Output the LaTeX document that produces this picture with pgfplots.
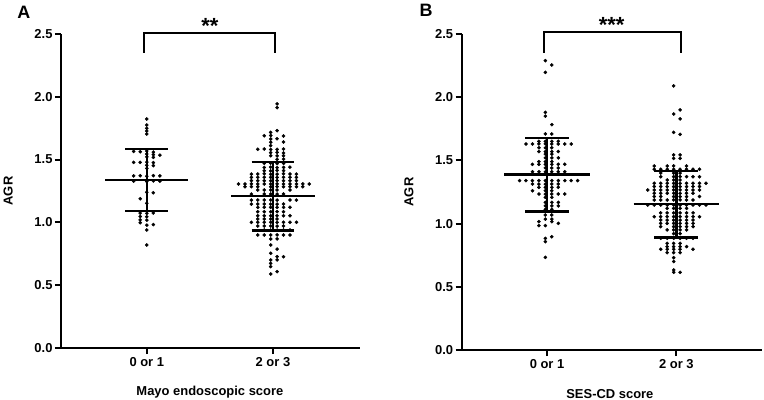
\documentclass[border=0pt]{standalone}
\usepackage{pgfplots}
\pgfplotsset{compat=1.18}
\usepackage{fontspec}
\setmainfont{Liberation Sans}

\pgfplotsset{
  dotplot/.style={
    scale only axis,
    axis x line=bottom, axis y line=left,
    axis line style={-, line width=2pt},
    x axis line style={-}, y axis line style={-},
    ymin=0, ymax=2.5, ytick={0,0.5,1,1.5,2,2.5},
    xtick={0,1}, xticklabels={0 or 1, 2 or 3},
    tick align=outside, major tick length=6bp,
    every tick/.style={black, line width=2pt},
    tick label style={font=\fontsize{13}{15}\selectfont\bfseries},
    yticklabel style={xshift=1bp},
    /pgf/number format/assume math mode=true,
    yticklabel style={/pgf/number format/.cd, fixed, fixed zerofill, precision=1},
    label style={font=\fontsize{13}{15}\selectfont\bfseries},
    clip=false,
  },
  dots/.style={only marks, mark=*, mark size=1.6pt, black},
  bar/.style={black, line width=2.4pt},
  brk/.style={black, line width=2pt, line join=miter},
}

\begin{document}
\begin{tikzpicture}
\useasboundingbox (0,0) rectangle (764bp,400bp);

% ---------------- Panel A ----------------
\begin{axis}[dotplot, at={(61bp,52bp)}, anchor=south west,
  width=299bp, height=314bp, xmin=-0.68, xmax=1.69,
  xlabel={Mayo endoscopic score}, ylabel={AGR},
  xlabel style={at={(axis description cs:0.498,-0.14)}, anchor=center},
  ylabel style={at={(axis description cs:-0.177,0.5)}, anchor=center, rotate=0}]
\addplot[dots] coordinates {
(0,1.823)(0,1.775)(0,1.749)(0,1.728)(0,1.704)
(-0.104,1.565)(-0.052,1.563)(0,1.568)(0.052,1.560)
(0,1.545)(0.052,1.540)(0.104,1.535)
(0,1.522)(0.052,1.518)
(-0.104,1.478)(-0.052,1.478)(0,1.480)(0.052,1.476)
(0,1.455)(0.052,1.452)
(0,1.430)
(-0.104,1.370)(-0.052,1.372)(0,1.368)(0.052,1.372)(0.104,1.370)
(-0.104,1.328)(0,1.326)(0.052,1.330)(0.104,1.328)
(0,1.240)(0.052,1.236)
(-0.052,1.188)
(0,1.152)
(-0.052,1.074)(0,1.072)(0.052,1.075)
(-0.052,1.047)(0,1.045)
(-0.052,1.020)(0,1.018)
(-0.052,0.998)
(0,0.978)(0.052,0.983)
(0,0.940)
(0,0.820)
};
\addplot[dots] coordinates {
(1.033,1.943)(1.033,1.913)
(1.033,1.730)(0.982,1.717)
(0.931,1.690)(0.982,1.692)(1.084,1.688)
(0.982,1.664)(1.033,1.666)
(0.982,1.638)(1.084,1.640)
(0.982,1.611)
(0.880,1.582)(0.931,1.584)(0.982,1.580)(1.033,1.582)(1.084,1.584)
(0.982,1.555)(1.033,1.557)(1.084,1.553)
(0.982,1.531)(1.033,1.529)(1.084,1.531)
(1.033,1.502)(1.084,1.504)
(0.931,1.470)(0.982,1.472)(1.033,1.468)(1.084,1.470)
(0.931,1.438)(0.982,1.440)(1.033,1.436)(1.084,1.438)(1.135,1.440)
(0.931,1.412)(0.982,1.410)(1.033,1.414)(1.084,1.412)
(0.829,1.385)(0.880,1.385)(0.931,1.387)(0.982,1.383)(1.033,1.385)(1.084,1.387)(1.135,1.385)(1.186,1.385)
(0.829,1.359)(0.880,1.359)(0.931,1.359)(0.982,1.359)(1.033,1.359)(1.084,1.359)(1.135,1.359)(1.186,1.359)
(0.829,1.332)(0.880,1.332)(0.931,1.332)(0.982,1.332)(1.033,1.332)(1.084,1.332)(1.135,1.332)(1.186,1.332)
(0.727,1.306)(0.778,1.306)(0.829,1.306)(0.880,1.306)(0.931,1.306)(0.982,1.306)(1.033,1.306)(1.084,1.306)(1.135,1.306)(1.186,1.306)(1.237,1.306)(1.288,1.306)
(0.778,1.284)(0.829,1.284)(0.880,1.284)(0.982,1.284)(1.033,1.284)(1.084,1.284)(1.135,1.284)(1.186,1.284)(1.237,1.284)
(0.880,1.258)(0.931,1.258)(0.982,1.258)(1.033,1.258)(1.135,1.258)
(0.829,1.226)(0.931,1.226)(0.982,1.226)(1.033,1.226)(1.084,1.226)
(0.829,1.178)(0.880,1.178)(0.931,1.178)(0.982,1.178)(1.033,1.178)(1.135,1.178)(1.186,1.178)
(0.829,1.146)(0.880,1.146)(0.931,1.146)(0.982,1.146)(1.033,1.146)(1.084,1.146)
(0.880,1.120)(0.931,1.120)(0.982,1.120)(1.033,1.120)(1.084,1.120)(1.135,1.120)
(0.880,1.085)(0.931,1.085)(0.982,1.085)(1.033,1.085)(1.084,1.085)
(0.880,1.053)(0.931,1.053)(0.982,1.053)(1.033,1.053)(1.084,1.053)(1.135,1.053)
(0.880,1.027)(0.931,1.027)(0.982,1.027)(1.033,1.027)
(0.829,1.001)(0.880,1.001)(0.931,1.001)(0.982,1.001)(1.033,1.001)(1.084,1.001)(1.135,1.001)(1.186,1.001)
(0.880,0.971)(0.931,0.971)(0.982,0.971)(1.033,0.971)(1.084,0.971)
(0.931,0.939)(0.982,0.939)(1.033,0.939)(1.084,0.939)(1.135,0.939)
(0.880,0.900)(0.931,0.900)(0.982,0.900)(1.033,0.900)(1.084,0.900)(1.135,0.900)
(0.982,0.868)(1.033,0.868)
(0.982,0.820)
(1.033,0.788)
(0.982,0.754)
(1.033,0.727)(1.084,0.727)
(0.982,0.701)(1.033,0.701)
(0.982,0.674)
(0.982,0.648)
(1.033,0.608)
(0.982,0.589)
};
% mean and SD, group 0 or 1
\addplot[bar] coordinates {(-0.33,1.338) (0.33,1.338)};
\addplot[bar] coordinates {(0,1.093) (0,1.584)};
\addplot[bar] coordinates {(-0.17,1.584) (0.17,1.584)};
\addplot[bar] coordinates {(-0.17,1.093) (0.17,1.093)};
% mean and SD, group 2 or 3
\addplot[bar] coordinates {(0.67,1.210) (1.335,1.210)};
\addplot[bar] coordinates {(1,0.934) (1,1.483)};
\addplot[bar] coordinates {(0.83,1.483) (1.17,1.483)};
\addplot[bar] coordinates {(0.83,0.934) (1.17,0.934)};
% significance bracket
\addplot[brk] coordinates {(-0.02,2.35) (-0.02,2.507) (1.02,2.507) (1.02,2.35)};
\node[anchor=base, font=\fontsize{22}{22}\selectfont\bfseries] at (axis cs:0.5,2.505) {**};
\node[font=\fontsize{18}{18}\selectfont\bfseries] at (axis description cs:-0.124,1.07) {A};
\end{axis}

% ---------------- Panel B ----------------
\begin{axis}[dotplot, at={(461.7bp,50bp)}, anchor=south west,
  width=300bp, height=316bp, xmin=-0.66, xmax=1.66,
  xlabel={SES-CD score}, ylabel={AGR},
  xlabel style={at={(axis description cs:0.494,-0.139)}, anchor=center},
  ylabel style={at={(axis description cs:-0.176,0.5)}, anchor=center, rotate=0}]
\addplot[dots] coordinates {
(-0.013,2.289)(0.037,2.255)(-0.013,2.197)
(-0.013,1.880)(-0.013,1.850)(0.037,1.783)
(-0.013,1.709)(0.037,1.709)
(-0.063,1.651)(-0.013,1.651)(0.037,1.651)(0.087,1.651)
(-0.163,1.630)(-0.113,1.630)(-0.063,1.630)(-0.013,1.630)(0.037,1.630)(0.087,1.630)(0.137,1.630)(0.187,1.630)
(-0.063,1.600)(-0.013,1.600)(0.037,1.600)
(-0.063,1.570)(-0.013,1.570)(0.037,1.570)(0.087,1.570)
(-0.013,1.550)(0.037,1.550)
(-0.013,1.520)(0.037,1.520)(0.087,1.520)
(-0.063,1.490)(-0.013,1.490)(0.037,1.490)
(-0.113,1.469)(-0.063,1.469)(-0.013,1.469)(0.037,1.469)(0.087,1.469)(0.137,1.469)
(-0.013,1.440)(0.037,1.440)(0.087,1.440)
(-0.113,1.410)(-0.063,1.410)(-0.013,1.410)(0.037,1.410)(0.087,1.410)(0.137,1.410)
(-0.213,1.340)(-0.163,1.340)(-0.113,1.340)(-0.063,1.340)(-0.013,1.340)(0.037,1.340)(0.087,1.340)(0.137,1.340)(0.187,1.340)(0.237,1.340)
(-0.113,1.313)(-0.063,1.313)(-0.013,1.313)(0.037,1.313)(0.087,1.313)
(-0.063,1.287)(-0.013,1.287)(0.037,1.287)(0.087,1.287)
(-0.113,1.260)(-0.013,1.260)(0.037,1.260)
(-0.063,1.234)(-0.013,1.234)(0.037,1.234)(0.087,1.234)(0.137,1.234)
(-0.013,1.208)(0.037,1.208)
(-0.013,1.168)(0.037,1.168)(0.087,1.168)
(-0.013,1.140)(0.037,1.140)(0.087,1.140)
(-0.013,1.113)(0.037,1.113)
(-0.013,1.068)(0.037,1.068)
(-0.013,1.036)(0.037,1.036)
(-0.063,1.015)(0.037,1.015)
(0.087,1.002)
(-0.063,0.984)(-0.013,0.984)
(0.037,0.896)(-0.013,0.883)(-0.013,0.857)
(-0.013,0.733)
};
\addplot[dots] coordinates {
(0.979,2.089)
(1.029,1.899)(0.979,1.867)(1.029,1.828)
(0.979,1.722)(1.029,1.706)
(0.979,1.543)(1.029,1.543)
(0.979,1.516)(1.029,1.516)
(0.829,1.456)(0.929,1.456)(0.979,1.456)(1.079,1.456)
(0.829,1.430)(0.879,1.430)(0.929,1.430)(0.979,1.430)(1.029,1.430)(1.079,1.430)(1.129,1.430)(1.179,1.430)
(0.879,1.400)(0.979,1.400)(1.029,1.400)
(0.879,1.371)(0.979,1.371)(1.029,1.371)(1.079,1.371)(1.129,1.371)(1.179,1.371)
(0.929,1.345)(0.979,1.345)(1.029,1.345)
(0.829,1.319)(0.879,1.319)(0.929,1.319)(0.979,1.319)(1.029,1.319)(1.079,1.319)(1.129,1.319)(1.179,1.319)(1.229,1.319)
(0.829,1.293)(0.879,1.293)(0.929,1.293)(0.979,1.293)(1.029,1.293)(1.079,1.293)(1.129,1.293)(1.179,1.293)
(0.779,1.266)(0.829,1.266)(0.879,1.266)(0.929,1.266)(0.979,1.266)(1.029,1.266)(1.079,1.266)(1.129,1.266)(1.179,1.266)
(0.829,1.240)(0.879,1.240)(0.929,1.240)(0.979,1.240)(1.029,1.240)(1.079,1.240)(1.129,1.240)
(0.829,1.214)(0.879,1.214)(0.979,1.214)(1.029,1.214)(1.079,1.214)(1.179,1.214)
(0.829,1.187)(0.879,1.187)(0.929,1.187)(0.979,1.187)(1.029,1.187)(1.079,1.187)(1.129,1.187)
(0.779,1.147)(0.829,1.147)(0.879,1.147)(0.929,1.147)(0.979,1.147)(1.029,1.147)(1.079,1.147)(1.129,1.147)(1.179,1.147)(1.229,1.147)
(0.929,1.120)(0.979,1.120)(1.029,1.120)(1.079,1.120)
(0.879,1.085)(0.929,1.085)(0.979,1.085)(1.029,1.085)(1.079,1.085)(1.129,1.085)
(0.829,1.055)(0.879,1.055)(0.929,1.055)(0.979,1.055)(1.029,1.055)(1.079,1.055)(1.129,1.055)(1.179,1.055)
(0.879,1.028)(0.929,1.028)(0.979,1.028)(1.029,1.028)(1.079,1.028)(1.129,1.028)
(0.879,1.002)(0.929,1.002)(0.979,1.002)(1.029,1.002)(1.079,1.002)(1.129,1.002)
(0.879,0.976)(0.979,0.976)(1.029,0.976)(1.079,0.976)(1.129,0.976)
(0.929,0.950)(0.979,0.950)(1.029,0.950)(1.079,0.950)
(0.979,0.920)(1.029,0.920)
(0.879,0.884)(0.929,0.884)(0.979,0.884)(1.029,0.884)(1.079,0.884)(1.129,0.884)
(0.929,0.844)(0.979,0.844)(1.029,0.844)
(0.929,0.818)(0.979,0.818)(1.029,0.818)(1.079,0.818)
(0.879,0.797)(0.929,0.797)(0.979,0.797)(1.029,0.797)(1.129,0.797)
(0.929,0.770)(0.979,0.770)(1.029,0.770)
(0.979,0.730)(0.979,0.700)(0.979,0.633)
(0.979,0.615)(1.029,0.615)
};
\addplot[bar] coordinates {(-0.33,1.387) (0.33,1.387)};
\addplot[bar] coordinates {(0,1.097) (0,1.677)};
\addplot[bar] coordinates {(-0.17,1.677) (0.17,1.677)};
\addplot[bar] coordinates {(-0.17,1.097) (0.17,1.097)};
\addplot[bar] coordinates {(0.67,1.157) (1.33,1.157)};
\addplot[bar] coordinates {(1,0.890) (1,1.418)};
\addplot[bar] coordinates {(0.83,1.418) (1.17,1.418)};
\addplot[bar] coordinates {(0.83,0.890) (1.17,0.890)};
\addplot[brk] coordinates {(-0.025,2.352) (-0.025,2.513) (1.035,2.513) (1.035,2.352)};
\node[anchor=base, font=\fontsize{22}{22}\selectfont\bfseries] at (axis cs:0.5,2.51) {***};
\node[font=\fontsize{18}{18}\selectfont\bfseries] at (axis description cs:-0.119,1.076) {B};
\end{axis}
\end{tikzpicture}
\end{document}
